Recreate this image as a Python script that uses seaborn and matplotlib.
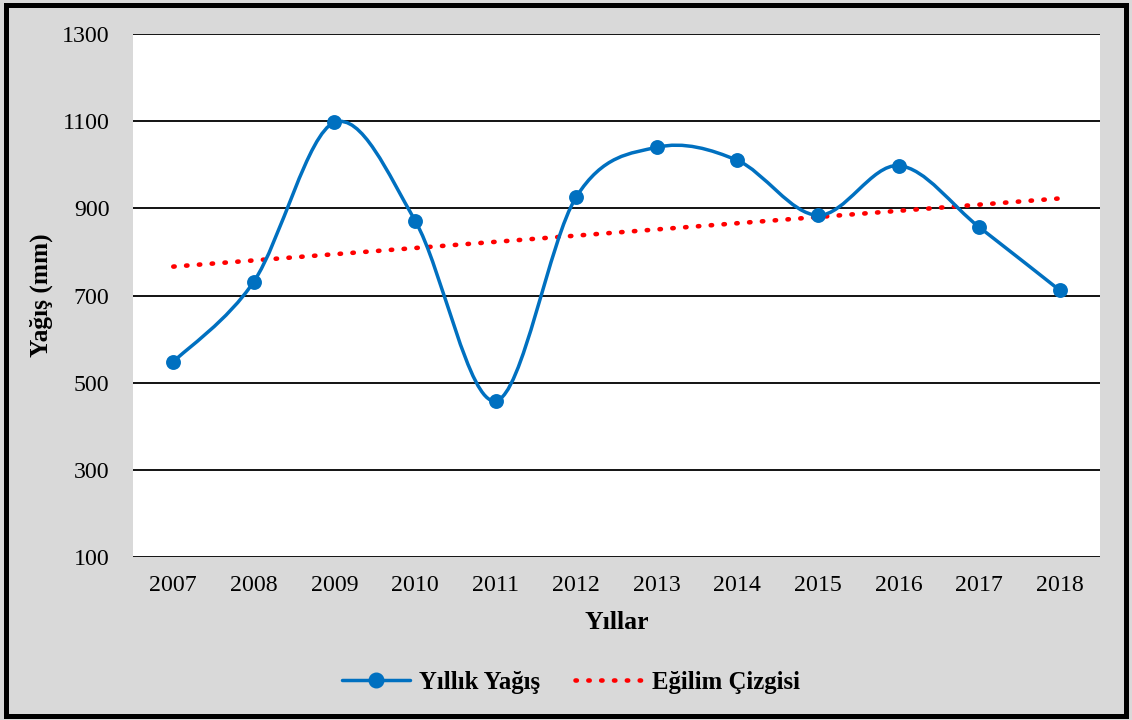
import numpy as np
import pandas as pd
import seaborn as sns
import matplotlib.pyplot as plt
from matplotlib.path import Path
from matplotlib.patches import PathPatch, Rectangle
from matplotlib.lines import Line2D

years = ["2007", "2008", "2009", "2010", "2011", "2012",
         "2013", "2014", "2015", "2016", "2017", "2018"]
rain = [548, 732, 1097, 872, 458, 926, 1040, 1010, 884, 998, 857, 712]
y_ticks = [100, 300, 500, 700, 900, 1100, 1300]

blue = "#0070C0"
grey = "#D9D9D9"

sns.set_style("white")
plt.rcParams["font.family"] = ["Liberation Serif", "DejaVu Serif"]
plt.rcParams["text.color"] = "black"
plt.rcParams["axes.labelcolor"] = "black"

df = pd.DataFrame({"pos": np.arange(len(years)), "rain": rain})

# linear trend like Excel's trendline
slope, icept = np.polyfit(df["pos"], df["rain"], 1)
df["trend"] = icept + slope * df["pos"]

fig = plt.figure(figsize=(11.32, 7.2), dpi=100)
fig.patch.set_facecolor(grey)
ax = fig.add_axes([133 / 1132, 163 / 720, 967 / 1132, 523 / 720])
ax.set_facecolor("white")

# smoothed line (Excel-style bezier through the points)
pts = df[["pos", "rain"]].to_numpy(dtype=float)
n = len(pts)
verts = [pts[0]]
codes = [Path.MOVETO]
for i in range(n - 1):
    p0 = pts[max(i - 1, 0)]
    p1 = pts[i]
    p2 = pts[i + 1]
    p3 = pts[min(i + 2, n - 1)]
    verts += [p1 + (p2 - p0) / 6, p2 - (p3 - p1) / 6, p2]
    codes += [Path.CURVE4] * 3
ax.add_patch(PathPatch(Path(verts, codes), fill=False, edgecolor=blue,
                       lw=2.5, zorder=3, capstyle="round", joinstyle="round"))

sns.scatterplot(data=df, x="pos", y="rain", ax=ax, color=blue, s=115,
                edgecolor=blue, linewidth=0, zorder=4)
sns.lineplot(data=df, x="pos", y="trend", ax=ax, color="red", lw=3.3,
             linestyle=(0, (0.3, 2.5)), dash_capstyle="round", zorder=2.5)

ax.set_xlim(-0.5, len(years) - 0.5)
ax.set_ylim(100, 1300)
ax.set_yticks(y_ticks)
ax.set_xticks(df["pos"])
ax.set_xticklabels(years)
ax.yaxis.grid(True, color="black", lw=1.3)
ax.set_axisbelow(True)
for s in ax.spines.values():
    s.set_visible(False)
ax.tick_params(axis="both", length=0, labelsize=17.2, colors="black")
ax.tick_params(axis="y", pad=17)
ax.tick_params(axis="x", pad=13)

ax.set_xlabel("Yıllar", fontsize=18.5, fontweight="bold")
ax.set_ylabel("Yağış (mm)", fontsize=18.3, fontweight="bold")
ax.xaxis.set_label_coords(0.5, -0.103)
ax.yaxis.set_label_coords(-0.083, 0.5)

handles = [
    Line2D([], [], color=blue, lw=2.5, marker="o", markersize=10.5),
    Line2D([], [], color="red", lw=3.3, linestyle=(0, (0.3, 2.5)),
           dash_capstyle="round"),
]
fig.legend(handles, ["Yıllık Yağış", "Eğilim Çizgisi"], loc="center",
           bbox_to_anchor=(571 / 1132, 1 - 682 / 720), ncol=2, frameon=False,
           prop={"size": 17.8, "weight": "bold"}, handlelength=2.75,
           columnspacing=1.45, handletextpad=0.35)

fig.add_artist(Rectangle((5.5 / 1132, 4.5 / 720), 1120.5 / 1132, 711 / 720,
                         transform=fig.transFigure, fill=False,
                         edgecolor="black", lw=3.6))

fig.savefig("out.png", dpi=100, facecolor=grey)
